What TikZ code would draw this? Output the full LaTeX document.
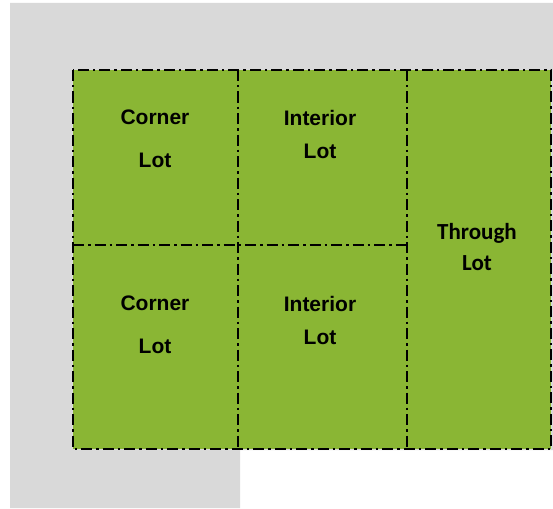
\documentclass[tikz,border=0pt]{standalone}
\usepackage{fontspec}
\setmainfont{Liberation Sans}
\newfontfamily\throughfont{Carlito}
\definecolor{lotgreen}{HTML}{8AB634}
\definecolor{streetgrey}{HTML}{D9D9D9}

\begin{document}
\begin{tikzpicture}[x=1pt,y=-1pt,
    lotline/.style={line width=2.6pt,dash pattern=on 11pt off 4pt on 2.5pt off 4pt},
    lotname/.style={align=center,inner sep=0pt,font=\bfseries\fontsize{21}{43}\selectfont}]
  \useasboundingbox (0,0) rectangle (553,508);
  % street
  \fill[streetgrey]
    (10, 3) -- (553, 3) -- (553, 450) -- (240, 450) -- (240, 508) -- (10, 508) -- cycle;
  % block
  \fill[lotgreen] (73, 70) rectangle (551, 449);
  \draw[lotline] (73, 70) rectangle (551, 449);
  \draw[lotline] (238, 70) -- (238, 449);
  \draw[lotline] (407, 70) -- (407, 449);
  \draw[lotline] (73, 245) -- (407, 245);
  % lots
  \node[lotname] (cornertop) at (155, 139) {Corner\\Lot};
  \node[lotname] (cornerbot) at (155, 325) {Corner\\Lot};
  \node[lotname,font=\bfseries\fontsize{21}{33}\selectfont] (interiortop) at (320, 134.5) {Interior\\Lot};
  \node[lotname,font=\bfseries\fontsize{21}{33}\selectfont] (interiorbot) at (320, 320) {Interior\\Lot};
  \node[lotname,font=\throughfont\bfseries\fontsize{23}{31}\selectfont] (through) at (477, 247) {Through\\Lot};
\end{tikzpicture}
\end{document}
